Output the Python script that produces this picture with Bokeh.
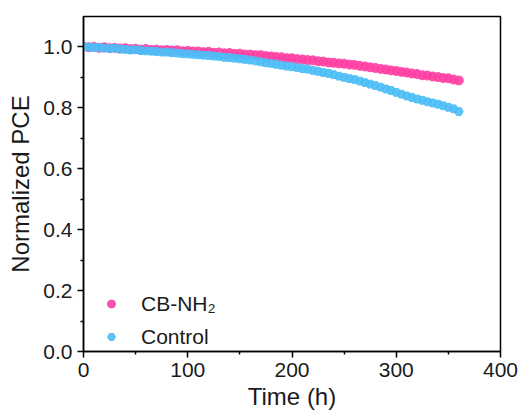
from bokeh.plotting import figure
from bokeh.models import Range1d, Legend, LegendItem, FixedTicker, CustomJSTickFormatter
from bokeh.embed import file_html
from bokeh.resources import INLINE

hours = list(range(0, 361, 5))

cb_nh2 = [1.001, 0.999, 1.000, 0.997, 0.999, 0.996, 0.997, 0.995, 0.996, 0.993,
          0.994, 0.991, 0.993, 0.990, 0.991, 0.989, 0.990, 0.988, 0.989, 0.986,
          0.987, 0.985, 0.985, 0.983, 0.984, 0.981, 0.982, 0.979, 0.980, 0.977,
          0.978, 0.975, 0.975, 0.973, 0.973, 0.970, 0.969, 0.967, 0.966, 0.963,
          0.963, 0.960, 0.959, 0.957, 0.956, 0.953, 0.952, 0.949, 0.948, 0.946,
          0.945, 0.942, 0.941, 0.938, 0.936, 0.933, 0.931, 0.928, 0.926, 0.923,
          0.921, 0.918, 0.916, 0.913, 0.911, 0.907, 0.906, 0.903, 0.901, 0.898,
          0.897, 0.893, 0.890]

control = [1.002, 0.999, 0.998, 0.999, 0.996, 0.995, 0.996, 0.993, 0.992, 0.990,
           0.991, 0.988, 0.987, 0.986, 0.985, 0.983, 0.983, 0.981, 0.980, 0.978,
           0.977, 0.976, 0.974, 0.973, 0.972, 0.970, 0.969, 0.966, 0.965, 0.963,
           0.961, 0.959, 0.957, 0.954, 0.951, 0.948, 0.946, 0.943, 0.940, 0.937,
           0.935, 0.932, 0.929, 0.927, 0.923, 0.920, 0.916, 0.913, 0.909, 0.904,
           0.900, 0.896, 0.893, 0.888, 0.883, 0.878, 0.873, 0.868, 0.862, 0.857,
           0.851, 0.845, 0.839, 0.834, 0.829, 0.825, 0.820, 0.816, 0.812, 0.807,
           0.802, 0.797, 0.788]

series_names = ["CB-NH\u2082", "Control"]
x_ticks = [0, 100, 200, 300, 400]
y_ticks = [0.0, 0.2, 0.4, 0.6, 0.8, 1.0]

PINK = "#FF3FA3"
BLUE = "#4CBEF6"
FONT = "Liberation Sans"
TXT = "#1a1a1a"

p = figure(width=520, height=417, output_backend="svg", toolbar_location=None,
           x_range=Range1d(0, 400), y_range=Range1d(0, 1.1),
           min_border_left=83, min_border_right=20, min_border_top=16,
           min_border_bottom=66)
p.grid.visible = False
p.outline_line_color = "black"
p.outline_line_width = 1.5
p.background_fill_color = "white"
p.border_fill_color = "white"

r1 = p.scatter(hours, cb_nh2, marker="circle", size=9, fill_color=PINK,
               line_color=PINK, fill_alpha=0.9, line_alpha=0.9)
r2 = p.scatter(hours, control, marker="hex", size=9, fill_color=BLUE,
               line_color=BLUE, fill_alpha=0.9, line_alpha=0.9)

for ax, ticks in ((p.xaxis[0], x_ticks), (p.yaxis[0], y_ticks)):
    ax.ticker = FixedTicker(ticks=ticks,
                            minor_ticks=[(ticks[i] + ticks[i + 1]) / 2 for i in range(len(ticks) - 1)])
    ax.axis_line_color = "black"
    ax.axis_line_width = 1.5
    ax.major_tick_line_color = "black"
    ax.major_tick_line_width = 1.5
    ax.minor_tick_line_color = "black"
    ax.minor_tick_line_width = 1.5
    ax.major_tick_out = 6
    ax.major_tick_in = 0
    ax.minor_tick_out = 3
    ax.minor_tick_in = 0
    ax.major_label_text_font = FONT
    ax.major_label_text_font_size = "21px"
    ax.major_label_text_color = TXT
    ax.major_label_standoff = 5
    ax.axis_label_text_font = FONT
    ax.axis_label_text_font_size = "24px"
    ax.axis_label_text_font_style = "normal"
    ax.axis_label_text_color = TXT

p.xaxis[0].axis_label = "Time (h)"
p.yaxis[0].axis_label = "Normalized PCE"
p.xaxis[0].axis_label_standoff = 3
p.yaxis[0].axis_label_standoff = 6
p.yaxis[0].formatter = CustomJSTickFormatter(code="return tick.toFixed(1);")

legend = Legend(items=[LegendItem(label=series_names[0], renderers=[r1]),
                       LegendItem(label=series_names[1], renderers=[r2])],
                location=(18, 2), orientation="vertical")
legend.border_line_color = None
legend.background_fill_alpha = 0
legend.label_text_font = FONT
legend.label_text_font_size = "21px"
legend.label_text_color = TXT
legend.glyph_width = 20
legend.label_height = 25
legend.glyph_height = 25
legend.label_standoff = 20
legend.spacing = 8
legend.padding = 2
p.add_layout(legend, "center")

open("out.html", "w").write(file_html(p, INLINE))
